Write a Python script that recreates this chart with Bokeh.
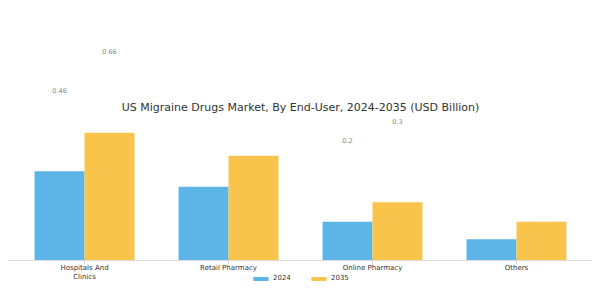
import math
from bokeh.plotting import figure
from bokeh.models import ColumnDataSource, FactorRange, Legend, LegendItem, Label, Span
from bokeh.core.properties import value
from bokeh.transform import dodge
from bokeh.embed import file_html
from bokeh.resources import INLINE

categories = ["Hospitals And\nClinics", "Retail Pharmacy", "Online Pharmacy", "Others"]
values_2024 = [0.46, 0.38, 0.20, 0.11]
values_2035 = [0.66, 0.54, 0.30, 0.20]
labelled = [True, False, True, False]
title_text = "US Migraine Drugs Market, By End-User, 2024-2035 (USD Billion)"

src = ColumnDataSource(dict(cat=categories, v24=values_2024, v35=values_2035,
                            zero=[0] * len(categories)))

lab_cat24 = [c for c, l in zip(categories, labelled) if l]
lab_v24 = [v for v, l in zip(values_2024, labelled) if l]
lab_v35 = [v for v, l in zip(values_2035, labelled) if l]
lab24 = ColumnDataSource(dict(cat=lab_cat24, v=lab_v24, t=[f"{v:g}" for v in lab_v24]))
lab35 = ColumnDataSource(dict(cat=lab_cat24, v=lab_v35, t=[f"{v:g}" for v in lab_v35]))

p = figure(width=600, height=300, output_backend="svg", toolbar_location=None,
           x_range=FactorRange(*categories, range_padding=0.014),
           y_range=(-0.1549, 1.342),
           min_border_left=8, min_border_right=8, min_border_top=0, min_border_bottom=10)

font = value("DejaVu Sans")
c24 = "#5DB4E6"
c35 = "#F9C44C"
bw = 0.347

# axis baseline and category ticks (ticks drawn first, bars hide their upper half)
p.add_layout(Span(location=0, dimension="width", line_color="#dddddd", line_width=1))
p.scatter(x="cat", y="zero", source=src, marker="dash", angle=math.pi / 2, size=6,
          line_color="#cccccc", line_width=1)

r24 = p.vbar(x=dodge("cat", -bw / 2, range=p.x_range), top="v24", width=bw, source=src,
             fill_color=c24, line_color=None)
r35 = p.vbar(x=dodge("cat", bw / 2, range=p.x_range), top="v35", width=bw, source=src,
             fill_color=c35, line_color=None)

for s, off in ((lab24, -bw / 2), (lab35, bw / 2)):
    p.text(x=dodge("cat", off, range=p.x_range), y="v", text="t", source=s,
           text_align="center", text_baseline="middle", y_offset=-81,
           text_font=font, text_font_size="6.5px", text_color="#888888")

# category labels under the baseline
p.text(x="cat", y="zero", text="cat", source=src, text_align="center",
       text_baseline="top", y_offset=4, text_font=font, text_font_size="7px",
       text_color="#333333", text_line_height=1.1)

p.add_layout(Label(x=2.0, y=0.79, text=title_text, text_align="center",
                   text_baseline="middle", text_font_size="11px", text_color="#333333",
                   text_font="DejaVu Sans"))

p.xaxis.visible = False
p.yaxis.visible = False
p.xgrid.grid_line_color = None
p.ygrid.grid_line_color = None
p.outline_line_color = None

legend = Legend(items=[LegendItem(label="2024", renderers=[r24]),
                       LegendItem(label="2035", renderers=[r35])],
                orientation="horizontal", location=(243, 8),
                glyph_width=19, glyph_height=5, label_height=5, label_standoff=3,
                spacing=16, padding=0, margin=0, border_line_color=None,
                background_fill_alpha=0, label_text_font_size="7px",
                label_text_color="#333333", label_text_font="DejaVu Sans")
p.add_layout(legend, "center")

open("out.html", "w").write(file_html(p, INLINE))
